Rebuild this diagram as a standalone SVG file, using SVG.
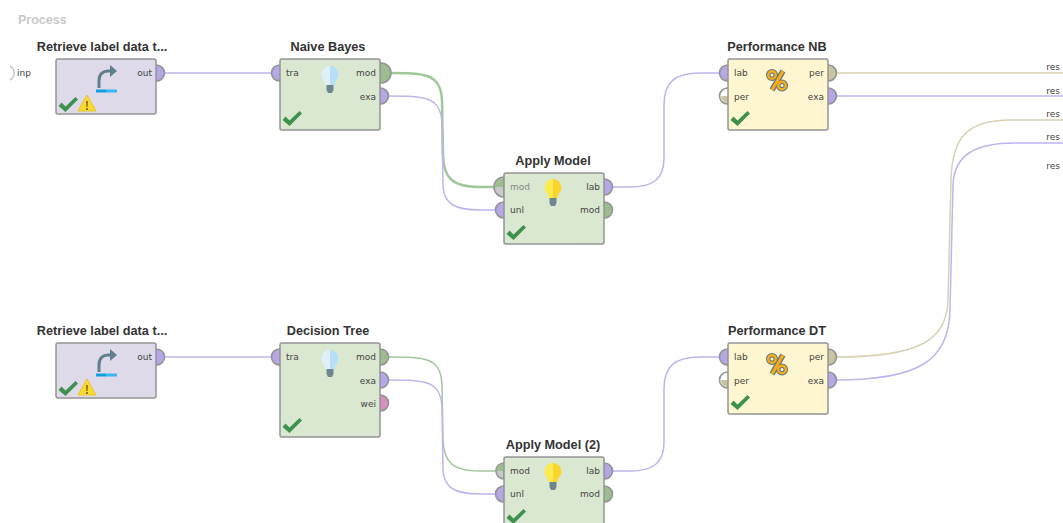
<svg xmlns="http://www.w3.org/2000/svg" width="1063" height="523" viewBox="0 0 1063 523">
<style>
text{font-family:"DejaVu Sans",sans-serif;font-size:9px;fill:#444}
.t{font-family:"Liberation Sans",sans-serif;font-weight:700;font-size:12.700px;fill:#333;text-anchor:middle}
.e{text-anchor:end}
.box{stroke:#949494;stroke-width:1.5}
.g{fill:#dbe8d1}.p{fill:#dfdaea}.y{fill:#fdf6d0}
.pt{stroke:#949494;stroke-width:1.6}
.pu{fill:#b5a6e6}.pg{fill:#9dbd90}.pb{fill:#c9c3a2}.pk{fill:#d68ebc}
.c{fill:none;stroke-width:1.5}
.cu{stroke:#bfb4ee}.cg{stroke:#a0c79a}.cb{stroke:#d8d1b2}
</style>
<defs>
<path id="tick" d="M-9.500 1l3-3.500 4 4 10-9.500 2.500 2.500-12.500 12.500z" fill="#3f9150"/>
<g id="warn"><path d="M0-9L9 7H-9z" fill="#fbd92f" stroke="#e9c52a"/><path d="M-.9-3h1.800l-.3 6h-1.200zM-.9 4h1.800v2h-1.800z" fill="#7a6a20"/></g>
<g id="ret"><path d="M-8 13V6c0-7 4-10 9-10h3" fill="none" stroke="#5f7f8c" stroke-width="3"/><path d="M3-10l7 6-7 6z" fill="#5f7f8c"/><rect x="-11" y="14.500" width="10" height="3" fill="#0f9fe0"/><rect x="-1" y="14.500" width="11" height="3" fill="#36b7f0"/></g>
<g id="bl"><path d="M0-13a8.500 8.500 0 0 0-8.500 8.500c0 4 3.500 6 4 10.500H0z" fill="#dff0fa"/><path d="M0-13a8.500 8.500 0 0 1 8.500 8.500c0 4-3.500 6-4 10.500H0z" fill="#b5e0f7"/><path d="M-3.500 6h7v5l-1.500 3h-4l-1.500-3z" fill="#71858f"/></g>
<g id="by"><path d="M0-13a8.500 8.500 0 0 0-8.500 8.500c0 4 3.500 6 4 10.500H0z" fill="#fdea4f"/><path d="M0-13a8.500 8.500 0 0 1 8.500 8.500c0 4-3.500 6-4 10.500H0z" fill="#fbd52e"/><path d="M-3.500 6h7v5l-1.500 3h-4l-1.500-3z" fill="#71858f"/></g>
<g id="pc"><path d="M6-9L-5 10" stroke="#5d7885" stroke-width="5.500"/><circle cx="-5" cy="-5" r="3.800" fill="none" stroke="#5d7885" stroke-width="4.500"/><circle cx="5" cy="5.500" r="3.800" fill="none" stroke="#5d7885" stroke-width="4.500"/><path d="M6-9L-5 10" stroke="#f9ac16" stroke-width="3"/><circle cx="-5" cy="-5" r="3.800" fill="none" stroke="#f9ac16" stroke-width="2.500"/><circle cx="5" cy="5.500" r="3.800" fill="none" stroke="#f9ac16" stroke-width="2.500"/></g>
</defs>

<text x="18" y="24" style="font-family:'Liberation Sans',sans-serif;font-weight:700;font-size:12.500px;fill:#c8c8c8">Process</text>

<g id="connectors">
<path class="c cu" d="M164 73H272"/>
<path class="c cg" style="stroke-width:2.500" d="M388 73C425 73 441 73 442 101L443 156C444 178 452 187 480 187H496"/>
<path class="c cu" d="M388 96C425 96 441 96 442 124L443 186C444 204 455 210 480 210H496"/>
<path class="c cu" d="M612 187H630C652 187 664 180 664 158V105C664 82 675 73 700 73H720"/>
<path class="c cb" d="M836 73H1063"/>
<path class="c cu" d="M836 96H1063"/>
<path class="c cb" d="M836 357C920 357 947 340 948 300L951 180C952 140 965 120 1010 120H1063"/>
<path class="c cu" d="M836 380C920 380 949 360 950 310L953 185C954 155 975 143 1015 143H1063"/>
<path class="c cu" d="M164 357H272"/>
<path class="c cg" d="M388 357C425 357 441 357 442 385L443 440C444 462 452 471 480 471H496"/>
<path class="c cu" d="M388 380C425 380 441 380 442 408L443 470C444 488 455 494 480 494H496"/>
<path class="c cu" d="M612 471H630C652 471 664 464 664 442V389C664 366 675 357 700 357H720"/>
</g>

<g id="process-ports">
<path d="M10 66a8 8 0 0 1 0 14" fill="none" stroke="#c4c4c4" stroke-width="1.500"/>
<text x="17" y="76">inp</text>
<text class="e" x="1060" y="70">res</text>
<text class="e" x="1060" y="94">res</text>
<text class="e" x="1060" y="117">res</text>
<text class="e" x="1060" y="140">res</text>
<text class="e" x="1060" y="169">res</text>
</g>

<g id="retrieve-1">
<text class="t" x="102" y="51">Retrieve label data t...</text>
<circle class="pt pu" cx="156.500" cy="73" r="8"/>
<rect class="box p" x="56" y="59" width="100" height="55" rx="2"/>
<text class="e" x="152" y="76">out</text>
<use href="#ret" x="107" y="75"/>
<use href="#tick" x="68" y="105"/>
<use href="#warn" x="87" y="104"/>
</g>

<g id="naive-bayes">
<text class="t" x="328" y="51">Naive Bayes</text>
<circle class="pt pu" cx="279.500" cy="73" r="8"/>
<circle class="pt pg" cx="381" cy="73" r="10"/>
<circle class="pt pu" cx="380.500" cy="96" r="8"/>
<rect class="box g" x="280" y="59" width="100" height="71" rx="2"/>
<text x="286" y="76">tra</text>
<text class="e" x="376" y="76">mod</text>
<text class="e" x="376" y="100">exa</text>
<use href="#bl" x="330" y="79"/>
<use href="#tick" x="292" y="119"/>
</g>

<g id="apply-model">
<text class="t" x="553" y="165">Apply Model</text>
<path class="pt" fill="#c9c9c9" d="M504 177a10 10 0 0 0 0 20z"/>
<path class="pg" d="M504 178a9 9 0 0 0-9 9h9z"/>
<circle class="pt pu" cx="503.500" cy="210" r="8"/>
<circle class="pt pu" cx="604.500" cy="187" r="8"/>
<circle class="pt pg" cx="604.500" cy="210" r="8"/>
<rect class="box g" x="504" y="173" width="100" height="71" rx="2"/>
<text x="510" y="190" style="fill:#888">mod</text>
<text x="510" y="213">unl</text>
<text class="e" x="600" y="190">lab</text>
<text class="e" x="600" y="213">mod</text>
<use href="#by" x="553" y="192"/>
<use href="#tick" x="516" y="233"/>
</g>

<g id="performance-nb">
<text class="t" x="777" y="51">Performance NB</text>
<circle class="pt pu" cx="727.500" cy="73" r="8"/>
<circle class="pt" fill="#fff" cx="727.500" cy="96" r="8"/>
<path class="pb" d="M728 96h-7a7 7 0 0 0 7 7z"/>
<circle class="pt pb" cx="828.500" cy="73" r="8"/>
<circle class="pt pu" cx="828.500" cy="96" r="8"/>
<rect class="box y" x="728" y="59" width="100" height="71" rx="2"/>
<text x="734" y="76">lab</text>
<text x="734" y="100">per</text>
<text class="e" x="824" y="76">per</text>
<text class="e" x="824" y="100">exa</text>
<use href="#pc" x="777" y="80"/>
<use href="#tick" x="740" y="119"/>
</g>

<g id="retrieve-2">
<text class="t" x="102" y="335">Retrieve label data t...</text>
<circle class="pt pu" cx="156.500" cy="357" r="8"/>
<rect class="box p" x="56" y="343" width="100" height="55" rx="2"/>
<text class="e" x="152" y="360">out</text>
<use href="#ret" x="107" y="359"/>
<use href="#tick" x="68" y="389"/>
<use href="#warn" x="87" y="388"/>
</g>

<g id="decision-tree">
<text class="t" x="328" y="335">Decision Tree</text>
<circle class="pt pu" cx="279.500" cy="357" r="8"/>
<circle class="pt pg" cx="380.500" cy="357" r="8"/>
<circle class="pt pu" cx="380.500" cy="380" r="8"/>
<circle class="pt pk" cx="380.500" cy="403" r="8"/>
<rect class="box g" x="280" y="343" width="100" height="94" rx="2"/>
<text x="286" y="360">tra</text>
<text class="e" x="376" y="360">mod</text>
<text class="e" x="376" y="384">exa</text>
<text class="e" x="376" y="407">wei</text>
<use href="#bl" x="330" y="363"/>
<use href="#tick" x="292" y="426"/>
</g>

<g id="apply-model-2">
<text class="t" x="553" y="449">Apply Model (2)</text>
<path class="pt" fill="#c9c9c9" d="M504 463a8 8 0 0 0 0 16z"/>
<path class="pg" d="M504 463.500a7.500 7.500 0 0 0-7.500 7.500h7.500z"/>
<circle class="pt pu" cx="503.500" cy="494" r="8"/>
<circle class="pt pu" cx="604.500" cy="471" r="8"/>
<circle class="pt pg" cx="604.500" cy="494" r="8"/>
<rect class="box g" x="504" y="457" width="100" height="71" rx="2"/>
<text x="510" y="474">mod</text>
<text x="510" y="497">unl</text>
<text class="e" x="600" y="474">lab</text>
<text class="e" x="600" y="497">mod</text>
<use href="#by" x="553" y="476"/>
<use href="#tick" x="516" y="517"/>
</g>

<g id="performance-dt">
<text class="t" x="777" y="335">Performance DT</text>
<circle class="pt pu" cx="727.500" cy="357" r="8"/>
<circle class="pt" fill="#fff" cx="727.500" cy="380" r="8"/>
<path class="pb" d="M728 380h-7a7 7 0 0 0 7 7z"/>
<circle class="pt pb" cx="828.500" cy="357" r="8"/>
<circle class="pt pu" cx="828.500" cy="380" r="8"/>
<rect class="box y" x="728" y="343" width="100" height="71" rx="2"/>
<text x="734" y="360">lab</text>
<text x="734" y="384">per</text>
<text class="e" x="824" y="360">per</text>
<text class="e" x="824" y="384">exa</text>
<use href="#pc" x="777" y="364"/>
<use href="#tick" x="740" y="403"/>
</g>
</svg>
